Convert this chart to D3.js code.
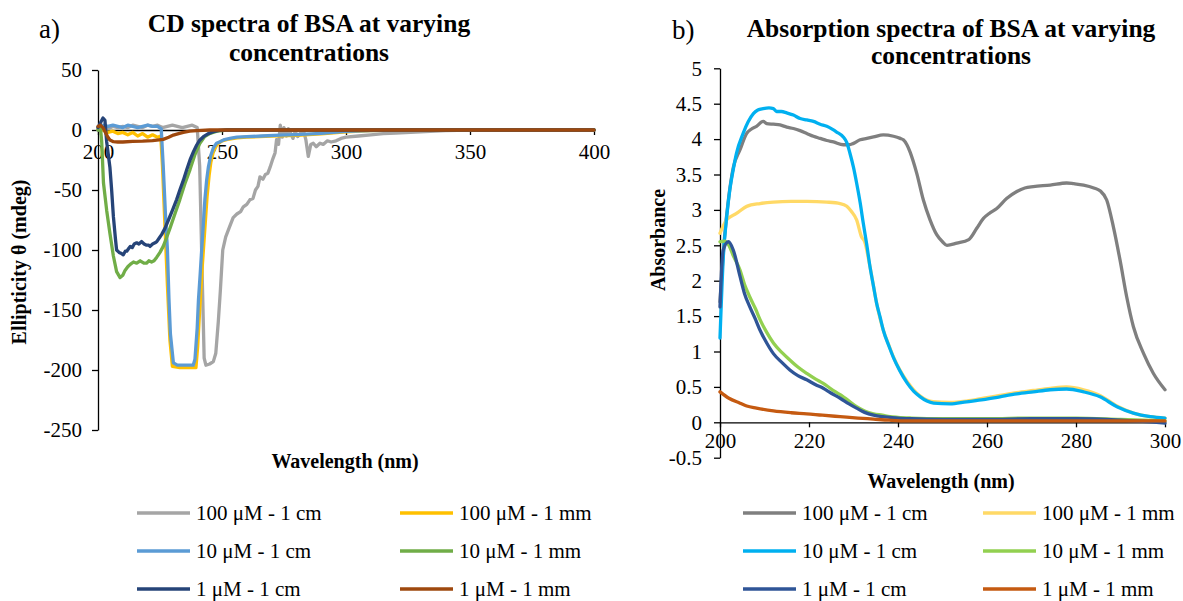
<!DOCTYPE html>
<html>
<head>
<meta charset="utf-8">
<script src="https://cdn.jsdelivr.net/npm/d3@7"></script>
<style>
  body { margin: 0; background: #fff; }
  svg text { font-family: "Liberation Serif", "Times New Roman", serif; }
</style>
</head>
<body>
<svg id="chart" width="1183" height="601"></svg>
<script>
// ---- data: [wavelength nm, value] ----

// a) CD spectra, ellipticity (mdeg)
const cd100cm = [[200,0],[202,3],[204,1],[206,3],[208,2],[210,3],[212,2],[214,4],[216,3],[218,2],[220,4],[222,3],[224,4],[226,2],[228,3],[230,4],[232,3],[234,2],[236,3],[238,4],[240,2],[241,-30],[242,-120],[242.8,-190],[243.5,-196],[245,-195],[246.5,-193],[247.5,-186],[248.5,-160],[249.3,-135],[250.3,-100],[251.5,-89],[253,-81],[254.5,-73],[256,-70],[257.5,-68],[258.6,-64],[260,-62],[261.3,-58],[262.5,-57],[263.5,-50],[264.5,-47],[265.3,-39],[266.5,-41],[267.5,-37],[268.5,-36],[269.4,-31],[270.5,-24],[271.4,-19],[272,-8],[272.8,-12],[273.5,4],[274.3,-6],[275,2],[276,-5],[276.8,1],[277.8,-3],[278.6,-7],[279.5,-1],[280.5,-5.5],[281.5,-3],[282.8,0],[283.8,-8],[284.8,-22],[285.8,-12],[286.8,-11],[288,-14],[289.5,-11],[290.8,-12],[292.5,-9],[294,-10],[296,-9],[298,-7],[300,-6],[305,-5],[310,-4],[315,-3],[320,-2.5],[330,-1.5],[340,-0.5],[350,0],[400,0]];
const cd100mm = [[200,1],[202,0],[204,-2],[206,-1],[208,-3],[210,-2],[212,-4],[214,-2],[216,-5],[218,-3],[220,-6],[222,-4],[224,-6],[225.3,-5],[226,-30],[227,-80],[228,-130],[229,-175],[230,-197],[233,-198],[236,-198],[239.5,-198],[240.2,-180],[241,-150],[242,-115],[243,-85],[244,-55],[244.8,-38],[245.5,-27],[246.5,-18],[248,-12],[250,-9],[253,-7.5],[256,-6.5],[260,-6],[270,-5],[280,-4.5],[290,-3.2],[300,-1.5],[310,-0.5],[320,0],[400,0]];
const cd10cm = [[200,2],[202,4],[204,3],[206,4],[208,3],[210,2],[212,4],[214,3],[216,2],[218,3],[220,4],[222,3],[224,3],[225.5,1],[226.3,-30],[227.2,-70],[228,-100],[228.6,-140],[229.2,-170],[230.4,-194],[232,-196],[236,-196],[238.4,-196],[239.1,-191],[240,-165],[240.5,-142],[241.2,-120],[241.8,-100],[242.5,-78],[243.1,-58],[243.8,-42],[244.5,-31],[245.5,-21],[246.5,-15],[247.8,-11],[249.2,-9.7],[251,-8],[253.2,-7],[256,-6],[260,-5.6],[266,-5],[273.4,-4.2],[280,-3.8],[290,-2.8],[300,-1.2],[310,-0.5],[320,0],[400,0]];
const cd10mm = [[200,0],[201,2],[201.5,-10],[202.2,-44],[203.5,-67],[204.8,-86],[206.2,-105],[207.5,-118],[208.9,-123],[210,-121],[210.9,-117],[212,-114],[213,-112],[214.3,-110],[215.6,-111],[217,-109],[218.5,-111],[219.6,-111],[220.5,-109],[221.6,-110],[222.6,-109],[223.7,-106],[225,-102],[226.3,-97],[227.6,-90],[229,-82],[231,-70],[233,-58],[235,-45],[237.1,-33],[239,-21],[241.1,-11],[243,-5.5],[245.2,-2.8],[248,-1],[252,0],[400,0]];
const cd1cm = [[200,2],[201,6],[202,10],[202.8,8],[203.5,-10],[204.8,-31],[205.5,-50],[206.2,-72],[207,-90],[207.5,-100],[208.5,-102],[209.5,-103],[210.2,-104],[211,-101],[211.6,-101],[212.3,-99],[213,-97],[213.8,-98],[214.6,-95],[215.6,-94],[216.5,-95],[217.6,-93],[218.6,-95],[219.6,-96],[220.5,-96],[221,-97],[222,-95],[223,-94],[223.7,-93],[224.7,-90],[225.7,-87],[227,-82],[228.4,-75],[230,-67],[231.7,-58],[233,-50],[234.4,-42],[235.8,-33],[237.1,-25],[238.5,-18],[239.8,-12.5],[241,-8.5],[242.5,-5.6],[244.5,-3],[246.5,-1.4],[249,-0.3],[252,0],[400,0]];
const cd1mm = [[200,3],[201,4],[202,2],[203,-2],[204,-6],[204.8,-8.3],[206.2,-9.7],[208,-10],[210,-10],[214,-9.5],[218,-9.3],[222,-8.8],[226.3,-7.8],[228.5,-6],[230.4,-4.2],[232.5,-3],[234.4,-2],[237,-1],[239.8,-0.5],[245,0],[400,0]];

// b) absorption spectra, absorbance
const ab100cm = [[200,1.7],[201,2.6],[202,3.2],[203,3.6],[204.5,3.85],[206,4.08],[207,4.14],[208.2,4.18],[209.7,4.25],[210.5,4.22],[212,4.21],[213.5,4.2],[215,4.17],[216.5,4.15],[218,4.12],[219.5,4.08],[221,4.04],[222.5,4.01],[224,3.98],[225.5,3.96],[227.7,3.92],[229,3.92],[230,3.94],[231.5,3.99],[233,4.01],[234.5,4.03],[236.7,4.06],[239,4.04],[240.5,4.01],[241.2,3.99],[242,3.92],[242.7,3.82],[244.2,3.52],[245.7,3.14],[247.2,2.86],[248.7,2.65],[250,2.55],[251,2.5],[253.2,2.53],[255.9,2.58],[257.7,2.74],[259.2,2.88],[260.5,2.95],[262.2,3.02],[264.4,3.16],[266.7,3.26],[268.5,3.31],[270.4,3.33],[274.2,3.35],[277.9,3.38],[279.5,3.37],[281.7,3.35],[284,3.31],[285.4,3.27],[286.9,3.14],[288.4,2.76],[289.9,2.29],[291.4,1.77],[292.9,1.35],[295.2,0.97],[297.4,0.69],[300,0.46]];
const ab100mm = [[200,2.67],[201.5,2.86],[203.7,2.95],[206,3.05],[209,3.09],[212,3.11],[216,3.12],[219.5,3.12],[224,3.11],[227,3.09],[228.5,3.05],[229.5,2.98],[230.7,2.86],[231.8,2.62],[232.5,2.55],[233.7,2.2],[235.2,1.68],[236.7,1.3],[238,1.08],[239,0.92],[240.4,0.74],[242,0.58],[243.5,0.46],[245,0.37],[247.9,0.29],[251.7,0.28],[255.4,0.3],[259.2,0.34],[262.9,0.38],[266.7,0.42],[270.4,0.45],[274.2,0.48],[277.9,0.5],[281.7,0.46],[285.4,0.38],[289.2,0.23],[292.9,0.13],[296.7,0.08],[300,0.06]];
const ab10cm = [[200,1.19],[200.75,2.34],[201.5,2.9],[202.2,3.28],[203,3.58],[203.7,3.8],[205.2,4.08],[206.3,4.24],[207.5,4.36],[208.5,4.41],[209.7,4.43],[211,4.44],[212,4.43],[212.7,4.39],[213.8,4.39],[215,4.37],[216.5,4.34],[218,4.29],[219.5,4.27],[221,4.25],[222.5,4.21],[224,4.18],[225.2,4.14],[226.2,4.1],[227.7,4.03],[228.5,3.95],[229.2,3.8],[230,3.6],[230.7,3.38],[231.5,3.1],[232.2,2.81],[233,2.5],[233.7,2.2],[234.5,1.92],[235.2,1.68],[236,1.48],[236.7,1.3],[238,1.07],[239,0.91],[240.4,0.73],[242,0.56],[243.5,0.44],[245,0.36],[246.5,0.3],[248,0.27],[251.7,0.26],[255.4,0.29],[259.2,0.32],[262.9,0.36],[266.7,0.4],[270.4,0.43],[274.2,0.46],[277.9,0.47],[281.7,0.43],[285.4,0.36],[289.2,0.22],[292.9,0.13],[296.7,0.08],[300,0.06]];
const ab10mm = [[200,2.55],[201,2.56],[202,2.5],[203,2.35],[204.5,2.15],[205.5,1.95],[206.7,1.77],[208,1.6],[209,1.45],[210.5,1.27],[212,1.12],[214,0.98],[215.7,0.88],[217.5,0.78],[219.5,0.69],[221.5,0.61],[223.2,0.55],[225,0.47],[227,0.39],[229,0.3],[230.7,0.22],[232.5,0.16],[234.5,0.12],[236.5,0.1],[238.2,0.08],[240,0.07],[243,0.06],[250,0.05],[260,0.05],[270,0.06],[280,0.06],[290,0.04],[300,0.02]];
const ab1cm = [[200,1.63],[200.7,2.43],[201.9,2.55],[203,2.43],[204.5,2.06],[205.5,1.82],[206.7,1.63],[208,1.45],[209,1.3],[210.5,1.12],[212,0.97],[214,0.84],[215.7,0.74],[217.5,0.66],[219.5,0.6],[221.5,0.53],[223.2,0.48],[225,0.41],[227,0.34],[229,0.26],[230.7,0.2],[232.5,0.14],[234.5,0.1],[236.5,0.08],[238.2,0.07],[240,0.06],[243,0.05],[250,0.04],[260,0.04],[270,0.05],[280,0.05],[290,0.03],[300,-0.01]];
const ab1mm = [[200,0.43],[202,0.34],[204.5,0.27],[206,0.23],[208.2,0.2],[212,0.16],[216,0.135],[219.5,0.12],[223,0.1],[227,0.08],[231,0.06],[234.5,0.045],[238,0.03],[242,0.02],[250,0.02],[300,0.02]];

const seriesNames = ['100 μM - 1 cm', '100 μM - 1 mm', '10 μM - 1 cm', '10 μM - 1 mm', '1 μM - 1 cm', '1 μM - 1 mm'];
const cdColors = ['#A5A5A5', '#FFC000', '#5B9BD5', '#70AD47', '#264478', '#9E480E'];
const abColors = ['#7F7F7F', '#FFD966', '#00B0F0', '#92D050', '#2F5597', '#C55A11'];

const cdXTicks = [200, 250, 300, 350, 400];
const cdYTicks = [50, 0, -50, -100, -150, -200, -250];
const abXTicks = [200, 220, 240, 260, 280, 300];
const abYTicks = [5, 4.5, 4, 3.5, 3, 2.5, 2, 1.5, 1, 0.5, 0, -0.5];

const svg = d3.select('#chart');
const FONT = 'Liberation Serif, Times New Roman, serif';

function drawPanel(p) {
  const g = svg.append('g');
  const x = d3.scaleLinear().domain(p.xDomain).range(p.xRange);
  const y = d3.scaleLinear().domain(p.yDomain).range(p.yRange);

  const yAxis = d3.axisLeft(y).tickValues(p.yTicks).tickSize(6).tickSizeOuter(0)
    .tickPadding(p.yPad).tickFormat(d => String(d));
  const ya = g.append('g').attr('transform', `translate(${p.xRange[0]},0)`).call(yAxis);

  const xAxis = d3.axisBottom(x).tickValues(p.xTicks).tickSize(5).tickSizeOuter(0)
    .tickPadding(p.xPad).tickFormat(d => String(d));
  const xa = g.append('g').attr('transform', `translate(0,${y(0)})`).call(xAxis);

  [ya, xa].forEach(a => {
    a.attr('font-family', FONT).attr('font-size', 21);
    a.selectAll('path, line').attr('stroke', '#000').attr('stroke-width', 1.3);
    a.selectAll('text').attr('fill', '#000');
  });

  const line = d3.line().x(d => x(d[0])).y(d => y(d[1])).curve(p.curve);
  p.series.forEach((s, i) => {
    g.append('path').datum(s)
      .attr('fill', 'none')
      .attr('stroke', p.colors[i])
      .attr('stroke-width', 3.3)
      .attr('stroke-linejoin', 'round')
      .attr('stroke-linecap', 'round')
      .attr('d', line);
  });

  // titles
  g.append('text').attr('x', p.labelX).attr('y', p.labelY)
    .attr('font-size', 27).text(p.label);
  p.title.forEach((t, i) => {
    g.append('text').attr('x', p.titleX).attr('y', p.titleY[i])
      .attr('text-anchor', 'middle').attr('font-size', 25.5).attr('font-weight', 'bold').text(t);
  });
  g.append('text').attr('x', p.xTitleX).attr('y', p.xTitleY)
    .attr('text-anchor', 'middle').attr('font-size', 20).attr('font-weight', 'bold')
    .text('Wavelength (nm)');
  g.append('text').attr('transform', `translate(${p.yTitleX},${p.yTitleY}) rotate(-90)`)
    .attr('text-anchor', 'middle').attr('font-size', 20).attr('font-weight', 'bold')
    .text(p.yTitle);

  // legend, 2 columns x 3 rows
  const rows = [513, 551, 589];
  seriesNames.forEach((name, i) => {
    const col = i % 2, row = Math.floor(i / 2);
    const lx = p.legendX[col], ly = rows[row];
    g.append('line').attr('x1', lx).attr('x2', lx + 53).attr('y1', ly).attr('y2', ly)
      .attr('stroke', p.colors[i]).attr('stroke-width', 3.3);
    g.append('text').attr('x', lx + 59).attr('y', ly).attr('dy', '0.35em')
      .attr('font-size', 21).text(name);
  });
}

drawPanel({
  series: [cd100cm, cd100mm, cd10cm, cd10mm, cd1cm, cd1mm],
  colors: cdColors,
  xDomain: [200, 400], xRange: [98, 594],
  yDomain: [-250, 50], yRange: [430, 70],
  xTicks: cdXTicks, yTicks: cdYTicks,
  xPad: 9, yPad: 10,
  curve: d3.curveLinear,
  label: 'a)', labelX: 39, labelY: 38,
  title: ['CD spectra of BSA at varying', 'concentrations'], titleX: 309, titleY: [32, 61],
  xTitleX: 345, xTitleY: 468,
  yTitle: 'Ellipticity θ (mdeg)', yTitleX: 26, yTitleY: 262,
  legendX: [137, 400]
});

drawPanel({
  series: [ab100cm, ab100mm, ab10cm, ab10mm, ab1cm, ab1mm],
  colors: abColors,
  xDomain: [200, 300], xRange: [720, 1165],
  yDomain: [-0.5, 5], yRange: [457.7, 68.3],
  xTicks: abXTicks, yTicks: abYTicks,
  xPad: 6, yPad: 12,
  curve: d3.curveMonotoneX,
  label: 'b)', labelX: 672, labelY: 39,
  title: ['Absorption spectra of BSA at varying', 'concentrations'], titleX: 951, titleY: [37, 64],
  xTitleX: 941, xTitleY: 488,
  yTitle: 'Absorbance', yTitleX: 665, yTitleY: 240,
  legendX: [743, 983]
});
</script>
</body>
</html>
